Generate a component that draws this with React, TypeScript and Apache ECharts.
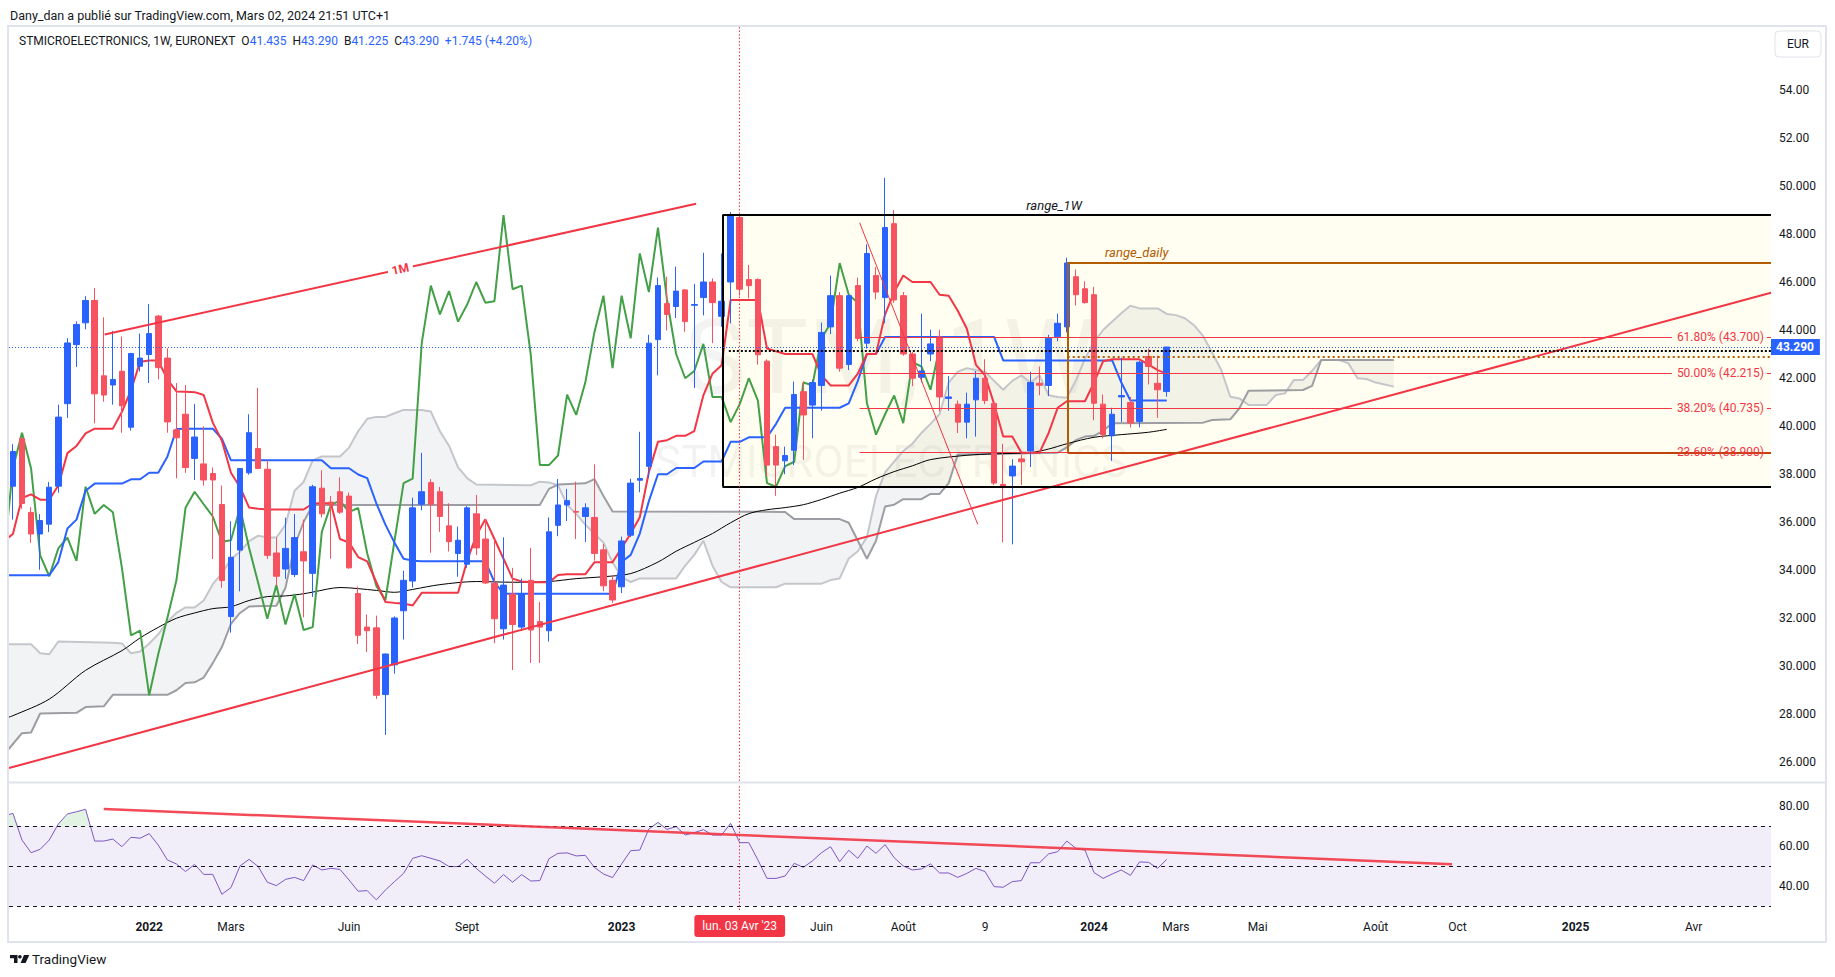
import React, { useEffect, useRef } from "react";
import * as echarts from "echarts";

const FONT = 'Roboto, "Noto Sans", "DejaVu Sans", sans-serif';

// ---------- weekly candles, week 0 = 03 Jan 2022 ----------
const FIRST_WEEK = -15;
const opens = [
  37.49, 39.47, 36.40, 35.50, 35.91, 37.49, 40.93, 43.39,
  44.30, 45.23, 42.09, 41.71, 42.28, 39.95, 42.49, 42.98,
  44.58, 42.83, 39.84, 40.49, 38.65, 38.42, 38.02, 36.73,
  32.06, 34.83, 38.05, 39.06, 38.20, 34.71, 34.04, 33.81,
  34.76, 33.86, 37.41, 36.83, 37.26, 37.08, 33.02, 31.62,
  31.59, 28.81, 30.05, 32.30, 33.54, 36.74, 37.64, 37.26,
  35.84, 34.69, 34.24, 36.34, 35.29, 33.45, 31.55, 33.00,
  31.62, 33.57, 31.85, 31.47, 35.86, 36.71, 36.44, 36.23,
  36.19, 34.84, 33.57, 33.30, 35.45, 37.74, 38.32, 43.60,
  45.10, 44.98, 45.67, 45.03, 45.35, 46.00, 44.57, 46.00,
  48.69, 46.10, 46.10, 42.70, 39.14, 38.55, 38.99, 41.43,
  40.87, 41.69, 44.13, 45.43, 42.56, 45.85, 43.45, 46.27,
  45.35, 48.43, 45.43, 43.00, 42.03, 43.00, 43.71, 41.15,
  40.91, 40.16, 41.09, 41.99, 40.94, 37.57, 37.92, 38.63,
  38.96, 41.78, 41.69, 43.72, 44.13, 46.22, 45.72, 45.47,
  40.91, 39.59, 41.21, 40.98, 40.19, 42.90, 41.78, 41.435,
];
const closes = [
  38.94, 36.77, 35.50, 36.06, 37.45, 40.37, 43.46, 44.23,
  45.23, 41.34, 41.29, 41.94, 40.84, 43.02, 42.83, 43.85,
  42.43, 40.17, 39.51, 38.27, 39.54, 37.75, 37.75, 33.56,
  34.53, 38.23, 39.72, 38.23, 34.61, 33.74, 34.90, 35.35,
  34.38, 37.47, 36.34, 36.71, 36.41, 34.09, 31.28, 31.47,
  28.78, 30.50, 32.00, 33.57, 36.59, 37.26, 36.74, 36.23,
  35.18, 35.24, 36.59, 34.92, 33.46, 31.97, 33.37, 31.73,
  33.00, 31.50, 31.62, 35.59, 36.71, 36.89, 36.41, 36.59,
  34.69, 33.34, 32.75, 35.21, 37.62, 37.81, 43.45, 45.85,
  44.65, 45.62, 44.35, 45.06, 46.00, 45.14, 45.20, 48.79,
  45.70, 45.85, 42.97, 38.37, 38.37, 38.77, 41.31, 40.46,
  41.81, 43.90, 45.43, 42.41, 45.43, 43.65, 47.19, 45.58,
  48.27, 45.25, 43.00, 41.99, 42.29, 43.42, 41.21, 41.21,
  40.16, 40.91, 41.99, 41.06, 37.62, 37.47, 38.33, 38.51,
  41.81, 41.70, 43.65, 44.28, 46.79, 45.47, 45.14, 40.95,
  39.64, 40.49, 41.27, 40.12, 42.66, 42.48, 41.51, 43.29,
];
const lows = [
  36.10, 36.55, 35.13, 34.01, 35.58, 37.22, 40.34, 42.46,
  44.03, 40.11, 41.01, 40.89, 39.72, 39.81, 42.27, 41.79,
  41.94, 39.72, 37.82, 38.05, 37.75, 37.52, 34.46, 33.26,
  31.39, 33.11, 37.97, 38.20, 34.46, 33.33, 33.63, 33.71,
  32.03, 32.88, 36.19, 34.47, 36.34, 34.05, 30.92, 30.58,
  28.63, 27.13, 29.68, 31.10, 33.27, 36.49, 34.72, 35.59,
  34.77, 33.72, 34.09, 34.62, 33.42, 30.95, 31.10, 29.83,
  31.47, 30.13, 30.13, 31.02, 35.41, 36.04, 35.29, 35.17,
  34.39, 33.12, 32.63, 33.04, 35.37, 37.24, 37.84, 42.11,
  43.98, 44.50, 43.93, 41.58, 44.61, 43.45, 44.13, 44.28,
  45.43, 45.32, 42.56, 37.92, 37.09, 37.99, 38.37, 38.59,
  39.49, 40.64, 43.83, 42.26, 42.33, 43.53, 43.23, 45.28,
  44.28, 45.13, 42.93, 41.66, 41.81, 42.70, 40.61, 40.64,
  39.71, 39.49, 39.56, 40.91, 37.54, 35.15, 35.07, 37.54,
  38.29, 41.28, 41.25, 43.53, 43.90, 45.02, 45.10, 40.24,
  39.49, 38.55, 40.16, 39.94, 39.94, 41.73, 40.34, 41.225,
];
const highs = [
  39.24, 39.54, 36.62, 36.33, 37.67, 40.89, 43.66, 44.36,
  45.41, 45.75, 44.53, 43.96, 43.73, 43.05, 43.85, 45.08,
  44.63, 43.24, 41.79, 41.71, 40.92, 39.99, 38.27, 37.52,
  36.03, 38.25, 40.49, 41.59, 38.57, 35.35, 36.18, 36.33,
  36.10, 37.55, 38.16, 37.08, 37.86, 37.23, 33.31, 32.15,
  32.10, 30.52, 32.07, 33.97, 37.01, 38.88, 37.79, 37.46,
  36.78, 35.81, 36.66, 37.13, 36.11, 35.29, 35.36, 34.09,
  33.64, 34.92, 32.67, 36.19, 37.79, 37.38, 37.68, 36.78,
  38.40, 35.09, 33.79, 35.39, 37.80, 39.76, 43.80, 46.19,
  46.22, 46.64, 45.70, 45.92, 47.22, 46.15, 47.19, 48.91,
  48.76, 46.71, 46.15, 42.78, 39.64, 39.14, 41.85, 41.85,
  41.93, 44.31, 46.27, 45.58, 45.47, 46.18, 47.57, 46.62,
  50.34, 48.99, 45.58, 43.08, 44.68, 44.01, 44.01, 42.08,
  41.06, 41.39, 42.29, 42.78, 41.00, 39.26, 38.62, 38.81,
  42.26, 42.48, 43.80, 44.68, 47.01, 46.52, 46.03, 45.80,
  41.31, 40.76, 42.85, 41.21, 42.71, 43.23, 42.93, 43.29,
];

// ---------- Ichimoku conversion line (red), from week -16 ----------
const TENKAN_START = -16;
const tenkan = [
  35.20,
  35.50, 37.00, 37.15, 36.93, 36.93, 37.52, 38.87, 39.17,
  39.69, 39.89, 39.89, 39.89, 40.59, 41.49, 42.68, 42.73,
  42.73, 41.94, 41.44, 41.43, 41.41, 41.29, 40.14, 39.39,
  38.05, 37.45, 36.60, 36.55, 36.52, 36.52, 36.52, 36.52,
  36.52, 36.77, 36.78, 36.78, 35.29, 35.14, 34.54, 34.36,
  33.49, 32.67, 32.63, 32.60, 32.52, 33.05, 33.05, 33.05,
  33.05, 33.05, 34.39, 35.44, 36.11, 35.29, 34.47, 33.64,
  33.52, 33.49, 33.49, 33.49, 33.79, 33.82, 33.82, 33.82,
  34.32, 34.32, 34.32, 34.92, 35.52, 36.20, 38.07, 39.34,
  39.41, 39.59, 39.59, 39.79, 41.28, 42.18, 42.53, 45.25,
  45.25, 45.25, 45.25, 43.23, 43.11, 43.00, 43.00, 43.00,
  43.00, 42.11, 41.69, 41.69, 41.69, 42.18, 43.00, 43.00,
  44.65, 45.58, 46.27, 46.00, 46.00, 46.00, 45.47, 45.43,
  44.80, 44.05, 42.55, 42.11, 40.91, 39.56, 39.56, 38.89,
  38.89, 38.89, 39.71, 40.76, 41.03, 41.03, 41.03, 41.81,
  42.70, 42.78, 42.78, 42.78, 42.78, 42.56, 42.33, 42.18,
];

// ---------- Ichimoku base line (blue): [week, value] vertices ----------
const kijun = [
  [-16, 33.78], [-11, 33.78], [-10, 34.33], [-9, 35.73], [-8, 36.10], [-7, 37.30],
  [-6, 37.60], [-3, 37.60], [-2, 37.78], [-1, 37.78], [0, 38.05], [1, 38.05],
  [2, 38.72], [3, 39.87], [4, 39.89], [7, 39.89], [8, 39.47], [9, 38.57],
  [19, 38.57], [20, 38.24], [22, 38.24], [23, 37.98], [24, 37.83], [25, 36.78],
  [26, 35.89], [27, 35.14], [28, 34.47], [29, 34.39], [30, 34.36], [37, 34.36],
  [38, 33.50], [39, 33.01], [51, 33.01], [52, 34.33], [53, 34.63], [54, 35.52],
  [55, 36.87], [56, 37.99], [57, 37.99], [58, 38.25], [60, 38.25], [61, 38.52],
  [63, 38.52], [64, 39.34], [65, 39.34], [66, 39.53], [68, 39.53], [69, 40.09],
  [70, 40.76], [76, 40.76], [77, 40.94], [78, 41.88], [79, 43.00], [80, 43.00],
  [81, 43.71], [93, 43.71], [94, 42.73], [106, 42.73], [107, 41.81], [108, 41.06],
  [112, 41.06],
];

// ---------- long moving average (black) ----------
const smaLine = [
  [-16, 27.80], [-15, 27.93], [-11, 28.62], [-7, 29.82], [-3, 30.64], [-1, 31.17],
  [1, 31.61], [3, 31.99], [5, 32.21], [7, 32.39], [9, 32.47], [11, 32.73],
  [13, 32.89], [15, 32.92], [17, 33.01], [18, 33.08], [21, 33.27], [25, 33.15],
  [27, 33.07], [29, 33.19], [32, 33.39], [36, 33.52], [40, 33.49], [44, 33.52],
  [47, 33.64], [50, 33.72], [53, 33.85], [56, 34.33], [58, 34.78], [60, 35.15],
  [62, 35.52], [64, 35.97], [66, 36.35], [68, 36.51], [70, 36.60], [72, 36.72],
  [74, 36.94], [76, 37.20], [78, 37.44], [80, 37.80], [82, 38.10], [84, 38.34],
  [86, 38.60], [90, 38.78], [93, 38.84], [97, 38.89], [99, 39.04], [101, 39.26],
  [104, 39.53], [107, 39.64], [110, 39.74], [112, 39.86],
];

// ---------- Ichimoku cloud lines (plotted positions) ----------
const spanA = [
  [-16, 30.91], [-13, 30.91], [-12, 30.53], [-11, 30.49], [-10, 31.02], [-4, 30.97],
  [-3, 30.94], [-2, 30.53], [-1, 30.60], [0, 30.94], [1, 31.32], [2, 31.84],
  [3, 32.21], [4, 32.44], [5, 32.44], [6, 32.73], [7, 33.41], [8, 33.86],
  [9, 34.46], [10, 34.76], [11, 35.20], [12, 35.43], [13, 35.35], [14, 35.35],
  [15, 35.88], [16, 37.30], [17, 37.67], [18, 38.57], [19, 38.73], [21, 38.73],
  [22, 39.10], [23, 39.78], [24, 40.30], [25, 40.38], [26, 40.38], [27, 40.53],
  [28, 40.67], [30, 40.67], [31, 40.60], [32, 39.78], [33, 39.18], [34, 38.28],
  [35, 37.83], [36, 37.56], [42, 37.53], [43, 37.68], [44, 37.65], [45, 37.53],
  [46, 36.71], [47, 36.34], [48, 35.89], [49, 35.51], [50, 35.14], [51, 34.32],
  [52, 33.70], [53, 33.50], [54, 33.65], [58, 33.65], [59, 34.18], [60, 34.63],
  [61, 35.22], [62, 34.18], [63, 33.50], [64, 33.28], [69, 33.28], [70, 33.43],
  [74, 33.43], [75, 33.58], [76, 33.65], [77, 34.48], [78, 34.78], [79, 35.37],
  [80, 37.09], [81, 38.07], [82, 38.52], [83, 38.96], [84, 39.26], [85, 39.71],
  [86, 40.09], [87, 40.50], [88, 41.81], [89, 42.26], [90, 42.41], [91, 42.33],
  [92, 42.26], [93, 41.88], [94, 41.51], [95, 41.88], [96, 42.11], [97, 41.81],
  [98, 42.11], [99, 41.28], [100, 41.21], [101, 41.18], [102, 41.90], [103, 42.80],
  [104, 43.50], [105, 44.00], [106, 44.35], [107, 44.70], [108, 45.01], [109, 44.90],
  [111, 44.90], [112, 44.67], [113, 44.62], [114, 44.49], [115, 44.20], [116, 43.75],
  [117, 43.05], [118, 42.33], [119, 41.22], [120, 41.15], [121, 40.88], [123, 40.88],
  [124, 41.29], [125, 41.36], [126, 41.92], [127, 41.92], [128, 42.30], [129, 42.75],
  [131, 42.75], [132, 42.61], [133, 41.99], [134, 41.96], [135, 41.81], [137, 41.64],
];
const spanB = [
  [-16, 26.30], [-15, 26.75], [-14, 27.20], [-13, 27.23], [-12, 28.02], [-8, 28.05],
  [-7, 28.29], [-5, 28.32], [-4, 28.80], [2, 28.80], [3, 28.99], [4, 29.29],
  [5, 29.32], [6, 29.52], [7, 30.12], [8, 30.79], [9, 31.76], [10, 32.21],
  [11, 32.48], [14, 32.51], [15, 33.26], [16, 35.00], [17, 36.00], [18, 36.71],
  [43, 36.71], [44, 37.38], [45, 37.56], [48, 37.61], [49, 37.79], [50, 37.08],
  [51, 36.44], [70, 36.42], [71, 36.12], [76, 36.12], [77, 35.97], [78, 35.22],
  [79, 34.47], [80, 35.22], [81, 36.65], [82, 36.72], [83, 36.95], [85, 36.95],
  [86, 37.17], [87, 37.17], [88, 37.62], [89, 38.81], [100, 38.89], [101, 39.11],
  [102, 39.41], [103, 39.56], [104, 39.59], [105, 39.80], [106, 40.11], [116, 40.14],
  [117, 40.25], [119, 40.28], [120, 40.74], [121, 41.47], [127, 41.50], [128, 41.67],
  [129, 42.75], [137, 42.75],
];

// lagging span = closes plotted 25 weeks back
const CHIKOU_SHIFT = 25;

// ---------- RSI, from week -16 ----------
const RSI_START = -16;
const rsi = [
  75.0,
  76.3, 63.0, 56.7, 58.4, 63.0, 71.0, 76.0, 77.1,
  78.3, 62.5, 62.5, 63.5, 59.7, 64.4, 63.9, 66.2,
  60.5, 53.1, 51.1, 47.3, 50.9, 45.9, 45.9, 36.0,
  39.3, 50.1, 53.4, 49.8, 42.0, 40.3, 43.4, 44.4,
  42.8, 50.6, 48.1, 48.9, 48.4, 43.1, 37.5, 37.8,
  33.2, 38.1, 42.3, 46.4, 53.9, 55.2, 53.9, 52.6,
  49.8, 49.8, 53.4, 48.9, 45.1, 41.5, 45.8, 42.0,
  45.8, 42.6, 42.8, 53.7, 56.4, 56.6, 55.1, 55.4,
  49.4, 46.1, 44.3, 51.1, 57.7, 58.0, 68.5, 71.8,
  68.3, 69.7, 65.5, 66.7, 68.2, 65.5, 65.5, 71.3,
  61.7, 61.7, 53.1, 43.9, 43.9, 45.1, 51.4, 49.4,
  52.6, 56.7, 59.7, 52.2, 57.9, 53.9, 60.0, 56.4,
  60.7, 54.2, 50.1, 48.1, 48.6, 51.1, 46.6, 46.6,
  44.4, 46.4, 48.9, 47.3, 39.8, 39.5, 42.3, 42.8,
  51.7, 51.7, 56.1, 57.2, 62.5, 58.9, 58.0, 46.8,
  43.9, 46.1, 48.1, 45.4, 52.1, 51.9, 48.9, 53.4,
];

// ---------- axes ----------
const xTickWeeks = [0, 9, 22, 35, 52, 74, 83, 92, 104, 113, 122, 135, 144, 157, 170];
const xTickLabels = ["2022", "Mars", "Juin", "Sept", "2023", "Juin", "Août", "9", "2024", "Mars", "Mai", "Août", "Oct", "2025", "Avr"];
const yearLabels = ["2022", "2023", "2024", "2025"];
const priceTicks = [26, 28, 30, 32, 34, 36, 38, 40, 42, 44, 46, 48, 50, 52, 54];
const rsiTicks = [40, 60, 80];

// ---------- annotations ----------
const fibLevels = [43.7, 42.215, 40.735, 38.9];
const fibLabels = ["61.80% (43.700)", "50.00% (42.215)", "38.20% (40.735)", "23.60% (38.900)"];
const LAST_PRICE = 43.29;
const CURSOR_WEEK = 65;

const X_MIN = -15.43;
const X_MAX = 178.51;
const P_MIN = 25.2083;
const P_MAX = 56.625;
const R_MIN = 28.16;
const R_MAX = 90.42;

const UP = "#2962ff";
const DOWN = "#f7525f";
const RED = "#f23645";
const BROWN = "#b35c00";
const TXT = "#131722";

function seg(x1: number, y1: number, x2: number, y2: number, lineStyle: any, label?: any) {
  return [
    { coord: [x1, y1], lineStyle: { type: "solid", ...lineStyle }, label: label ? { show: true, ...label } : { show: false } },
    { coord: [x2, y2] },
  ];
}

function buildOption() {
  const candleData = opens.map((o, i) => [FIRST_WEEK + i, o, closes[i], lows[i], highs[i]]);
  const tenkanData = tenkan.map((v, i) => [TENKAN_START + i, v]);
  const chikouData = closes.map((c, i) => [FIRST_WEEK + i - CHIKOU_SHIFT, c]);
  const rsiData = rsi.map((v, i) => [RSI_START + i, v]);

  const FIB_START = 78.2;
  const FIB_LABEL_AT = 167.6;
  const FIB_RESUME = 178.05;

  const mainLines: any[] = [
    seg(X_MIN, 25.75, X_MAX, 45.55, { color: RED, width: 2 }),
    seg(-4.9, 43.81, 60.2, 49.26, { color: RED, width: 2 }, {
      position: "insideMiddle", formatter: "1M", color: RED, fontSize: 12, fontWeight: "bold",
      backgroundColor: "#ffffff", padding: [1, 4], fontFamily: FONT,
    }),
    seg(78.2, 48.47, 91.2, 35.9, { color: RED, width: 1 }),
    seg(63.1, 48.79, X_MAX, 48.79, { color: "#000000", width: 2 }),
    seg(63.1, 37.48, X_MAX, 37.48, { color: "#000000", width: 2 }),
    seg(63.1, 37.48, 63.1, 48.79, { color: "#000000", width: 2 }),
    seg(63.8, 43.14, X_MAX, 43.14, { color: "#000000", width: 2, type: [2, 2] }),
  ];
  fibLevels.forEach((lv, i) => {
    mainLines.push(seg(FIB_START, lv, FIB_LABEL_AT, lv, { color: RED, width: 1 }, {
      position: "end", distance: 5, formatter: fibLabels[i], color: RED, fontSize: 12, fontFamily: FONT,
    }));
    mainLines.push(seg(FIB_RESUME, lv, X_MAX, lv, { color: RED, width: 1 }));
  });
  mainLines.push(
    seg(101.1, 46.82, X_MAX, 46.82, { color: BROWN, width: 2 }),
    seg(101.1, 38.9, 101.1, 46.82, { color: BROWN, width: 2 }),
    seg(101.1, 38.9, X_MAX, 38.9, { color: "#c2410c", width: 2 }),
    seg(101.1, 42.87, X_MAX, 42.87, { color: BROWN, width: 2, type: [2, 3] }),
    seg(X_MIN, LAST_PRICE, X_MAX, LAST_PRICE, { color: UP, width: 1, type: [1, 2] }, {
      position: "end", distance: 0, formatter: "43.290", color: "#ffffff", backgroundColor: UP,
      fontWeight: "bold", fontSize: 12, padding: [2, 6, 2, 5], fontFamily: FONT,
    }),
  );

  const lineBase = {
    type: "line", xAxisIndex: 0, yAxisIndex: 0, showSymbol: false, symbol: "none",
    silent: true, animation: false, emphasis: { disabled: true },
  };

  return {
    animation: false,
    backgroundColor: "#ffffff",
    textStyle: { fontFamily: FONT },
    grid: [
      { left: 9, top: 27, width: 1762, height: 754 },
      { left: 9, top: 785, width: 1762, height: 125 },
    ],
    xAxis: [
      {
        type: "value", gridIndex: 0, min: X_MIN, max: X_MAX,
        axisLabel: { show: false }, axisLine: { show: false }, axisTick: { show: false }, splitLine: { show: false },
        axisPointer: {
          show: true, type: "line", value: CURSOR_WEEK, status: "show", snap: false, triggerTooltip: false,
          lineStyle: { color: RED, width: 1, type: [1.5, 2] }, label: { show: false },
        },
      },
      {
        type: "value", gridIndex: 1, min: X_MIN, max: X_MAX,
        axisLine: { show: false }, axisTick: { show: false }, splitLine: { show: false },
        axisLabel: {
          customValues: xTickWeeks, margin: 11, fontSize: 12, color: TXT, fontFamily: FONT,
          formatter: (v: number) => {
            const i = xTickWeeks.indexOf(Math.round(v));
            const t = i >= 0 ? xTickLabels[i] : "";
            return yearLabels.indexOf(t) >= 0 ? `{y|${t}}` : t;
          },
          rich: { y: { fontWeight: "bold", fontSize: 12, color: TXT, fontFamily: FONT } },
        },
        axisPointer: {
          show: true, type: "line", value: CURSOR_WEEK, status: "show", snap: false, triggerTooltip: false,
          lineStyle: { color: RED, width: 1, type: [1.5, 2] },
          label: {
            show: true, formatter: () => "lun. 03 Avr '23", backgroundColor: RED, color: "#ffffff",
            padding: [5, 8], margin: 5, fontSize: 12, fontFamily: FONT,
          },
        },
      },
    ],
    yAxis: [
      {
        type: "value", gridIndex: 0, position: "right", min: P_MIN, max: P_MAX,
        axisLine: { show: false }, axisTick: { show: false }, splitLine: { show: false },
        axisLabel: {
          customValues: priceTicks, margin: 8, fontSize: 12, color: TXT, fontFamily: FONT,
          formatter: (v: number) => (v >= 52 ? v.toFixed(2) : v.toFixed(3)),
        },
      },
      {
        type: "value", gridIndex: 1, position: "right", min: R_MIN, max: R_MAX,
        axisLine: { show: false }, axisTick: { show: false }, splitLine: { show: false },
        axisLabel: {
          customValues: rsiTicks, margin: 8, fontSize: 12, color: TXT, fontFamily: FONT,
          formatter: (v: number) => v.toFixed(2),
        },
      },
    ],
    graphic: [
      {
        type: "text", x: 890, y: 357, z: 0, silent: true,
        style: { text: "STM, 1W", fontSize: 104, fontFamily: FONT, fill: "rgba(120,123,134,0.09)", align: "center", verticalAlign: "middle" },
      },
      {
        type: "text", x: 891, y: 462, z: 0, silent: true,
        style: { text: "STMICROELECTRONICS", fontSize: 44, fontFamily: FONT, fill: "rgba(120,123,134,0.09)", align: "center", verticalAlign: "middle" },
      },
      {
        type: "text", x: 10, y: 15, z: 100, silent: true,
        style: { text: "Dany_dan a publié sur TradingView.com, Mars 02, 2024 21:51 UTC+1", fontSize: 12.5, fontFamily: FONT, fill: TXT, align: "left", verticalAlign: "middle" },
      },
      {
        type: "rect", z: 100, silent: true,
        shape: { x: 8, y: 26, width: 1818, height: 916 },
        style: { fill: "none", stroke: "#e0e3eb", lineWidth: 2 },
      },
      {
        type: "line", z: 100, silent: true,
        shape: { x1: 8, y1: 782.5, x2: 1826, y2: 782.5 },
        style: { stroke: "#e0e3eb", lineWidth: 2 },
      },
      {
        type: "text", x: 19, y: 41, z: 100, silent: true,
        style: {
          text: "STMICROELECTRONICS, 1W, EURONEXT  O{v|41.435}  H{v|43.290}  B{v|41.225}  C{v|43.290}  {v|+1.745 (+4.20%)}",
          fontSize: 12, fontFamily: FONT, fill: TXT, align: "left", verticalAlign: "middle",
          rich: { v: { fill: UP, fontSize: 12, fontFamily: FONT } },
        },
      },
      {
        type: "rect", z: 100, silent: true,
        shape: { x: 1775, y: 31, width: 46, height: 26, r: 4 },
        style: { fill: "#ffffff", stroke: "#e0e3eb", lineWidth: 1 },
      },
      {
        type: "text", x: 1798, y: 44, z: 101, silent: true,
        style: { text: "EUR", fontSize: 12, fontFamily: FONT, fill: TXT, align: "center", verticalAlign: "middle" },
      },
      {
        type: "polygon", z: 100, silent: true,
        shape: { points: [[10, 955], [17.5, 955], [17.5, 963], [14, 963], [14, 958.3], [10, 958.3]] },
        style: { fill: TXT },
      },
      { type: "circle", z: 100, silent: true, shape: { cx: 19.9, cy: 956.8, r: 1.8 }, style: { fill: TXT } },
      {
        type: "polygon", z: 100, silent: true,
        shape: { points: [[24, 955], [29.3, 955], [25.6, 963], [20.6, 963]] },
        style: { fill: TXT },
      },
      {
        type: "text", x: 32, y: 959, z: 100, silent: true,
        style: { text: "TradingView", fontSize: 13.5, fontFamily: FONT, fill: TXT, align: "left", verticalAlign: "middle" },
      },
    ],
    series: [
      {
        name: "annotations", type: "line", xAxisIndex: 0, yAxisIndex: 0, data: [], clip: false, silent: true, z: 1,
        markArea: {
          silent: true, z: 1, label: { show: false },
          itemStyle: { color: "rgba(255,235,59,0.075)", borderWidth: 0 },
          data: [[{ coord: [63.1, 37.48] }, { coord: [X_MAX, 48.79] }]],
        },
        markLine: {
          silent: true, z: 5, symbol: ["none", "none"], animation: false,
          label: { show: false }, lineStyle: { type: "solid" }, emphasis: { disabled: true },
          data: mainLines,
        },
        markPoint: {
          silent: true, z: 5, symbol: "rect", symbolSize: 1, itemStyle: { color: "rgba(0,0,0,0)" },
          data: [
            {
              coord: [99.6, 48.79],
              label: { show: true, position: "top", distance: 3, formatter: "range_1W", color: TXT, fontStyle: "italic", fontSize: 13, fontFamily: FONT },
            },
            {
              coord: [108.7, 46.82],
              label: { show: true, position: "top", distance: 3, formatter: "range_daily", color: BROWN, fontStyle: "italic", fontSize: 13, fontFamily: FONT },
            },
          ],
        },
      },
      {
        name: "cloud", type: "custom", xAxisIndex: 0, yAxisIndex: 0, z: 2, silent: true, clip: true,
        data: [[0, 30]],
        renderItem: (_params: any, api: any) => {
          const top = spanA.map((p) => api.coord(p));
          const bottom = spanB.slice().reverse().map((p) => api.coord(p));
          return {
            type: "polygon",
            shape: { points: top.concat(bottom) },
            style: { fill: "rgba(178,181,190,0.17)" },
          };
        },
      },
      { ...lineBase, name: "spanA", data: spanA, z: 3, lineStyle: { color: "#c5c6cb", width: 2 } },
      { ...lineBase, name: "spanB", data: spanB, z: 3, lineStyle: { color: "#9d9ea3", width: 2 } },
      { ...lineBase, name: "sma", data: smaLine, z: 3, smooth: 0.3, lineStyle: { color: "#000000", width: 1 } },
      { ...lineBase, name: "chikou", data: chikouData, z: 3, lineStyle: { color: "#43a047", width: 2 } },
      { ...lineBase, name: "kijun", data: kijun, z: 3, lineStyle: { color: UP, width: 2 } },
      { ...lineBase, name: "tenkan", data: tenkanData, z: 3, lineStyle: { color: RED, width: 2 } },
      {
        name: "candles", type: "candlestick", xAxisIndex: 0, yAxisIndex: 0, data: candleData, z: 4,
        barWidth: 6, silent: true, animation: false,
        itemStyle: { color: UP, color0: DOWN, borderColor: UP, borderColor0: DOWN, borderWidth: 1 },
      },
      {
        name: "rsiOverbought", type: "custom", xAxisIndex: 1, yAxisIndex: 1, z: 2, silent: true, clip: true,
        data: [[0, 50]],
        renderItem: (params: any, api: any) => {
          const pts = rsiData.map((p) => api.coord(p));
          const start = api.coord([rsiData[0][0], 70]);
          const end = api.coord([rsiData[rsiData.length - 1][0], 70]);
          const topY = api.coord([0, R_MAX])[1];
          const cs = params.coordSys;
          return {
            type: "polygon",
            shape: { points: [start].concat(pts, [end]) },
            style: { fill: "rgba(76,175,80,0.16)" },
            clipPath: { type: "rect", shape: { x: cs.x, y: topY, width: cs.width, height: start[1] - topY } },
          };
        },
      },
      {
        name: "rsi", type: "line", xAxisIndex: 1, yAxisIndex: 1, data: rsiData, showSymbol: false, symbol: "none",
        silent: true, z: 3, lineStyle: { color: "#7e57c2", width: 1 },
        markArea: {
          silent: true, z: 1, label: { show: false },
          itemStyle: { color: "rgba(126,87,194,0.1)" },
          data: [[{ yAxis: 30 }, { yAxis: 70 }]],
        },
        markLine: {
          silent: true, z: 5, symbol: ["none", "none"], label: { show: false }, emphasis: { disabled: true },
          data: [
            { yAxis: 70, lineStyle: { color: TXT, width: 1, type: [4, 4] } },
            { yAxis: 50, lineStyle: { color: TXT, width: 1, type: [4, 4] } },
            { yAxis: 30, lineStyle: { color: TXT, width: 1, type: [4, 4] } },
            seg(-5, 78.5, 143.4, 51.0, { color: RED, width: 2.5, opacity: 0.9 }),
          ],
        },
      },
    ],
  };
}

export default function App() {
  const ref = useRef<HTMLDivElement>(null);
  useEffect(() => {
    document.body.style.margin = "0";
    document.body.style.overflow = "hidden";
    const chart = echarts.init(ref.current as HTMLDivElement, null, { renderer: "svg", width: 1835, height: 977 });
    chart.setOption(buildOption() as any);
    return () => chart.dispose();
  }, []);
  return (
    <div
      ref={ref}
      style={{ position: "absolute", left: 0, top: 0, width: 1835, height: 977, background: "#ffffff" }}
    />
  );
}
